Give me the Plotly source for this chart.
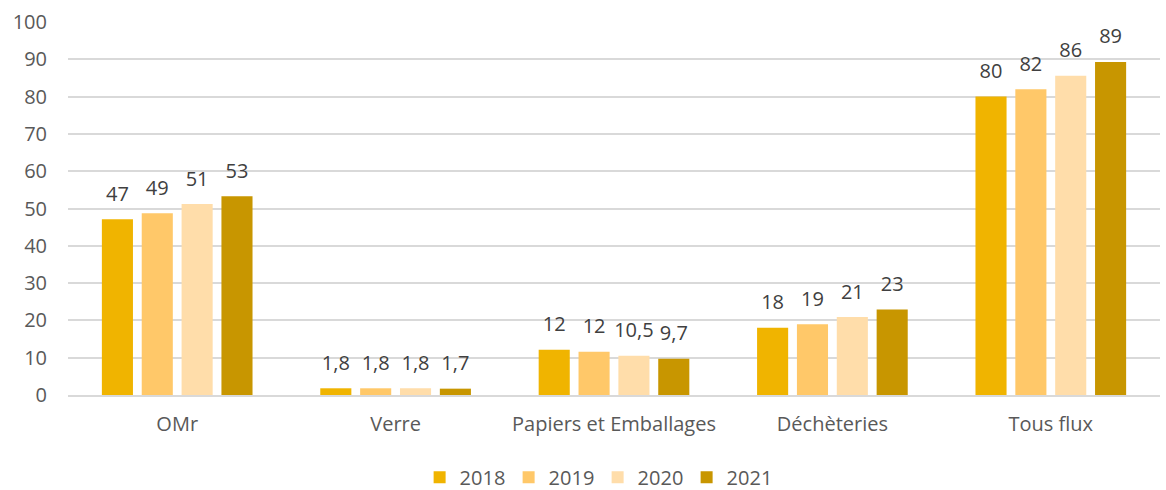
import plotly.graph_objects as go

categories = ["OMr", "Verre", "Papiers et Emballages", "Déchèteries", "Tous flux"]
years = ["2018", "2019", "2020", "2021"]
values_2018 = [47.1, 1.8, 12.1, 18.0, 80.0]
values_2019 = [48.7, 1.8, 11.6, 19.0, 82.0]
values_2020 = [51.2, 1.8, 10.5, 20.9, 85.6]
values_2021 = [53.3, 1.7, 9.7, 22.9, 89.3]
labels_2018 = ["47", "1,8", "12", "18", "80"]
labels_2019 = ["49", "1,8", "12", "19", "82"]
labels_2020 = ["51", "1,8", "10,5", "21", "86"]
labels_2021 = ["53", "1,7", "9,7", "23", "89"]
colors = ["#F0B400", "#FFC869", "#FFDDAA", "#C89600"]

series = [values_2018, values_2019, values_2020, values_2021]
labels = [labels_2018, labels_2019, labels_2020, labels_2021]

FONT = "Open Sans"
GAP = 0.27

fig = go.Figure()
for i, (yr, vals, col) in enumerate(zip(years, series, colors)):
    fig.add_trace(go.Bar(
        name=yr, x=categories, y=vals, offsetgroup=str(i),
        marker=dict(color=col, line=dict(width=0)),
        hoverinfo="skip",
    ))
for i, (vals, txt) in enumerate(zip(series, labels)):
    fig.add_trace(go.Scatter(
        x=categories, y=vals, text=txt, mode="markers+text", offsetgroup=str(i),
        textposition="top center", cliponaxis=False, showlegend=False,
        marker=dict(size=20, color="rgba(0,0,0,0)"),
        textfont=dict(family=FONT, size=20, color="#404040"),
        hoverinfo="skip",
    ))

fig.update_layout(
    width=1166, height=490,
    margin=dict(l=68, r=6, t=22, b=95),
    paper_bgcolor="white", plot_bgcolor="white",
    barmode="group", bargap=GAP, bargroupgap=0.22,
    scattermode="group", scattergap=GAP,
    font=dict(family=FONT, size=20, color="#595959"),
    showlegend=True,
    legend=dict(orientation="h", x=0.485, xanchor="center", yref="container",
                y=0.066, yanchor="top",
                font=dict(family=FONT, size=20, color="#595959"),
                itemwidth=30, entrywidth=44, traceorder="normal"),
)
fig.update_yaxes(range=[0, 100], dtick=10, showgrid=True, gridcolor="#D9D9D9", gridwidth=1.5,
                 zeroline=False, showline=False, ticks="", ticklabelstandoff=20,
                 automargin=False,
                 tickfont=dict(family=FONT, size=20, color="#595959"))
fig.update_xaxes(showline=True, linecolor="#D9D9D9", linewidth=1.5, ticks="",
                 ticklabelstandoff=10, automargin=False,
                 tickfont=dict(family=FONT, size=20, color="#595959"))

fig.write_html("out.html", config={"displayModeBar": False},
               post_script="document.body.style.margin='0';")
